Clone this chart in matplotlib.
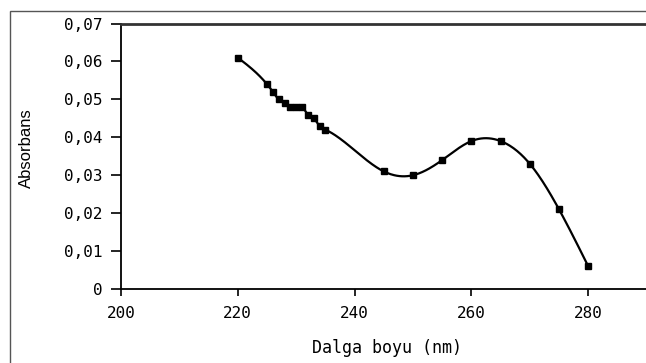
import numpy as np
import matplotlib

matplotlib.use("Agg")

import matplotlib.pyplot as plt  # noqa: E402
from matplotlib.patches import Rectangle  # noqa: E402

# Absorbance spectrum.
wavelength = [220, 225, 226, 227, 228, 229, 230, 231, 232, 233, 234, 235,
              245, 250, 255, 260, 265, 270, 275, 280]
absorbance = [0.061, 0.054, 0.052, 0.050, 0.049, 0.048, 0.048, 0.048, 0.046, 0.045,
              0.043, 0.042, 0.031, 0.030, 0.034, 0.039, 0.039, 0.033, 0.021, 0.006]

x_ticks = [200, 220, 240, 260, 280]
y_ticks = [0, 0.01, 0.02, 0.03, 0.04, 0.05, 0.06, 0.07]
y_tick_labels = ["0", "0,01", "0,02", "0,03", "0,04", "0,05", "0,06", "0,07"]


def natural_spline(x, y, num=400):
    """Natural cubic spline through the points, for the smoothed line."""
    x = np.asarray(x, float)
    y = np.asarray(y, float)
    n = len(x)
    h = np.diff(x)
    A = np.zeros((n, n))
    b = np.zeros(n)
    A[0, 0] = A[-1, -1] = 1.0
    for i in range(1, n - 1):
        A[i, i - 1] = h[i - 1]
        A[i, i] = 2 * (h[i - 1] + h[i])
        A[i, i + 1] = h[i]
        b[i] = 3 * ((y[i + 1] - y[i]) / h[i] - (y[i] - y[i - 1]) / h[i - 1])
    c = np.linalg.solve(A, b)
    xs = np.linspace(x[0], x[-1], num)
    idx = np.clip(np.searchsorted(x, xs) - 1, 0, n - 2)
    dx = xs - x[idx]
    bb = (y[idx + 1] - y[idx]) / h[idx] - h[idx] * (2 * c[idx] + c[idx + 1]) / 3
    dd = (c[idx + 1] - c[idx]) / (3 * h[idx])
    ys = y[idx] + bb * dx + c[idx] * dx ** 2 + dd * dx ** 3
    return xs, ys


plt.rcParams["font.family"] = "DejaVu Sans Mono"

fig = plt.figure(figsize=(6.46, 3.63), dpi=100)
ax = fig.add_axes([121 / 646, 1 - 289 / 363, 1 - 121 / 646 + 0.01, (289 - 23.5) / 363])

xs, ys = natural_spline(wavelength, absorbance)
ax.plot(xs, ys, color="black", linewidth=1.6)
ax.plot(wavelength, absorbance, linestyle="none", marker="s", markersize=5, color="black")

ax.set_xlim(200, 291)
ax.set_ylim(0, 0.07)
ax.set_xticks(x_ticks)
ax.set_yticks(y_ticks)
ax.set_yticklabels(y_tick_labels)

ax.tick_params(axis="both", labelsize=11.5, width=1.2, length=5, color="black")
ax.tick_params(axis="x", pad=7)
ax.tick_params(axis="y", length=7, pad=6)

for side in ("left", "bottom"):
    ax.spines[side].set_linewidth(1.3)
ax.spines["top"].set_linewidth(2)
ax.spines["top"].set_color("#333333")
ax.spines["right"].set_visible(False)

ax.set_xlabel("Dalga boyu (nm)", fontsize=12, labelpad=13)
ax.set_ylabel("Absorbans", fontsize=12, family=["Liberation Sans", "DejaVu Sans"])
ax.yaxis.set_label_coords(34 / 646, 1 - 148 / 363, transform=fig.transFigure)

# thin outer frame of the original figure
fig.patches.append(Rectangle((10 / 646, -0.5), 2, 1.5 - 11 / 363, transform=fig.transFigure,
                             fill=False, edgecolor="#555555", linewidth=1))

fig.savefig("out.png", dpi=100)
